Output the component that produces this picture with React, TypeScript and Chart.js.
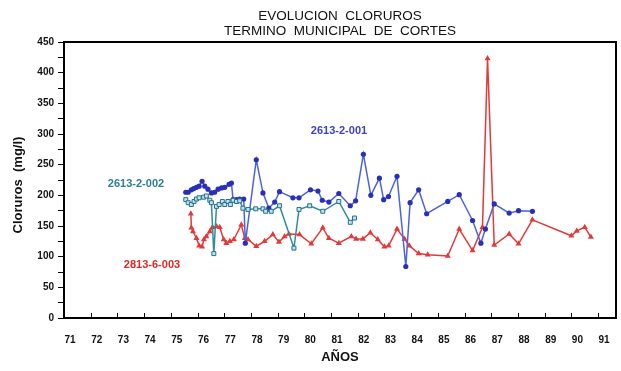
import { useEffect, useRef } from 'react';
import { Chart, registerables } from 'chart.js';

Chart.register(...registerables);

// ---- tick labels ----
const X_TICKS = [71, 72, 73, 74, 75, 76, 77, 78, 79, 80, 81, 82, 83, 84, 85, 86, 87, 88, 89, 90, 91];
const Y_TICKS = [0, 25, 50, 75, 100, 125, 150, 175, 200, 225, 250, 275, 300, 325, 350, 375, 400, 425, 450];

// ---- series 2613-2-001 (blue) ----
const s001Years = [
  75.56, 75.65, 75.77, 75.86, 75.96, 76.06, 76.17, 76.27, 76.39, 76.52, 76.64, 76.77, 76.9, 77.02, 77.18, 77.27,
  77.33, 77.46, 77.58, 77.73, 77.79, 78.2, 78.45, 78.67, 78.89, 79.07, 79.57, 79.8, 80.23, 80.51, 80.67, 80.92,
  81.29, 81.72, 81.92, 82.21, 82.49, 82.81, 82.97, 83.15, 83.47, 83.8, 83.96, 84.28, 84.58, 85.37, 85.8, 86.3,
  86.61, 86.78, 87.11, 87.67, 88.02, 88.54,
];
const s001Values = [
  205, 205, 209, 211, 213, 215, 223, 215, 210, 204, 205, 210, 212, 213, 218, 220,
  193, 193, 194, 194, 122, 258, 204, 179, 189, 206, 196, 196, 209, 207, 192, 189,
  203, 183, 191, 267, 200, 228, 193, 198, 231, 84, 188, 209, 170, 190, 201, 159,
  122, 145, 186, 171, 175, 174,
];

// ---- series 2613-2-002 (teal) ----
const s002Years = [
  75.56, 75.65, 75.77, 75.87, 75.96, 76.06, 76.23, 76.33, 76.46, 76.52, 76.61, 76.71, 76.81, 76.93, 77.02, 77.14,
  77.23, 77.33, 77.46, 77.58, 77.7, 77.89, 78.18, 78.45, 78.55, 78.76, 79.07, 79.61, 79.8, 80.2, 80.69, 81.29,
  81.72, 81.88,
];
const s002Values = [
  193, 188, 185, 190, 194, 196, 197, 199, 192, 188, 105, 182, 185, 190, 185, 190,
  185, 192, 190, 191, 179, 177, 178, 178, 174, 174, 183, 114, 177, 183, 174, 190,
  156, 163,
];

// ---- series 2813-6-003 (red) ----
const s003Years = [
  75.75, 75.77, 75.83, 75.96, 76.06, 76.17, 76.24, 76.33, 76.46, 76.56, 76.71, 76.83, 76.98, 77.08, 77.21, 77.36,
  77.64, 77.77, 77.89, 78.2, 78.51, 78.82, 79.05, 79.26, 79.42, 79.82, 80.26, 80.69, 80.92, 81.29, 81.76, 81.94,
  82.19, 82.47, 82.75, 83.0, 83.16, 83.47, 83.75, 83.93, 84.28, 84.62, 85.37, 85.8, 86.3, 86.67, 86.86, 87.11,
  87.67, 88.02, 88.54, 90.0, 90.2, 90.5, 90.73,
];
const s003Values = [
  170, 147, 141, 130, 118, 116, 128, 133, 141, 148, 149, 148, 128, 122, 125, 128,
  152, 130, 128, 117, 125, 136, 124, 133, 137, 136, 121, 147, 130, 122, 133, 129,
  129, 139, 128, 116, 118, 145, 129, 118, 105, 103, 101, 145, 110, 148, 423, 119,
  137, 121, 160, 134, 142, 148, 132,
];

const SERIES_LABELS = ['2613-2-001', '2613-2-002', '2813-6-003'];
const TITLE_LINES = ['EVOLUCION  CLORUROS', 'TERMINO  MUNICIPAL  DE  CORTES'];
const Y_TITLE = 'Cloruros  (mg/l)';
const X_TITLE = 'AÑOS';

const BLUE = '#4a63e0';
const BLUE_DARK = '#2a2fb8';
const TEAL = '#2f8d98';
const RED = '#e53838';

const toPoints = (xs: number[], ys: number[]) => xs.map((x, i) => ({ x, y: ys[i] }));

const FONT = '"Liberation Sans", Arial, sans-serif';

const decor = {
  id: 'decor',
  afterDraw(chart: any) {
    const { ctx, chartArea, scales } = chart;
    const { left, right, top, bottom } = chartArea;
    ctx.save();
    // frame
    ctx.strokeStyle = '#000';
    ctx.lineWidth = 2;
    ctx.strokeRect(left, top, right - left, bottom - top);
    // inward x ticks
    ctx.lineWidth = 1;
    ctx.beginPath();
    X_TICKS.forEach((v) => {
      if (v === X_TICKS[0]) return;
      const px = Math.round(scales.x.getPixelForValue(v)) + 0.5;
      ctx.moveTo(px, bottom);
      ctx.lineTo(px, bottom - 5);
    });
    ctx.stroke();
    // title
    ctx.fillStyle = '#111';
    ctx.textAlign = 'center';
    ctx.textBaseline = 'middle';
    ctx.font = `13.5px ${FONT}`;
    const cx = (left + right) / 2;
    ctx.fillText(TITLE_LINES[0], cx, 16);
    ctx.fillText(TITLE_LINES[1], cx, 31);
    // x title
    ctx.font = `bold 13px ${FONT}`;
    ctx.fillText(X_TITLE, cx, 357);
    // y title
    ctx.save();
    ctx.translate(18, 185);
    ctx.rotate(-Math.PI / 2);
    ctx.fillText(Y_TITLE, 0, 0);
    ctx.restore();
    // series labels
    ctx.font = `bold 11px ${FONT}`;
    ctx.fillStyle = '#3b3fd0';
    ctx.fillText(SERIES_LABELS[0], 339, 131);
    ctx.fillStyle = '#2c7d95';
    ctx.fillText(SERIES_LABELS[1], 136, 184);
    ctx.fillStyle = '#e02828';
    ctx.fillText(SERIES_LABELS[2], 152, 265);
    ctx.restore();
  },
};

export default function App() {
  const ref = useRef<HTMLCanvasElement>(null);
  useEffect(() => {
    if (!ref.current) return;
    const tickFont = { family: FONT, size: 10, weight: 'bold' as const };
    const chart = new Chart(ref.current, {
      type: 'line',
      data: {
        datasets: [
          {
            label: SERIES_LABELS[1],
            data: toPoints(s002Years, s002Values),
            borderColor: TEAL,
            borderWidth: 1.5,
            pointStyle: 'rect',
            pointRadius: 2.8,
            pointBackgroundColor: '#bfe6ef',
            pointBorderColor: '#2a6f88',
            pointBorderWidth: 1,
            tension: 0,
          },
          {
            label: SERIES_LABELS[0],
            data: toPoints(s001Years, s001Values),
            borderColor: BLUE,
            borderWidth: 1.5,
            pointStyle: 'circle',
            pointRadius: 2.6,
            pointBackgroundColor: BLUE_DARK,
            pointBorderColor: BLUE_DARK,
            pointBorderWidth: 0,
            tension: 0,
          },
          {
            label: SERIES_LABELS[2],
            data: toPoints(s003Years, s003Values),
            borderColor: RED,
            borderWidth: 1.5,
            pointStyle: 'triangle',
            pointRadius: 3.5,
            pointBackgroundColor: RED,
            pointBorderColor: RED,
            pointBorderWidth: 0,
            tension: 0,
          },
        ],
      },
      options: {
        responsive: false,
        animation: false,
        events: [],
        layout: { padding: { top: 42, right: 4, left: 0, bottom: 0 } },
        plugins: { legend: { display: false }, tooltip: { enabled: false }, title: { display: false } },
        scales: {
          x: {
            type: 'linear',
            min: 71,
            max: 91.67,
            afterBuildTicks: (s: any) => {
              s.ticks = X_TICKS.map((v) => ({ value: v }));
            },
            afterFit: (s: any) => {
              s.height = 53;
            },
            grid: { display: false, drawTicks: false },
            border: { display: true, color: '#000', width: 2 },
            ticks: {
              padding: 16,
              labelOffset: 6,
              color: '#111',
              font: tickFont,
              maxRotation: 0,
              autoSkip: false,
              callback: (v: any) => String(v),
            },
          },
          y: {
            type: 'linear',
            min: 0,
            max: 450,
            afterBuildTicks: (s: any) => {
              s.ticks = Y_TICKS.map((v) => ({ value: v }));
            },
            afterFit: (s: any) => {
              s.width = 64;
            },
            grid: { display: true, drawOnChartArea: false, drawTicks: true, tickLength: 6, color: '#000', lineWidth: 1 },
            border: { display: true, color: '#000', width: 2 },
            ticks: {
              padding: 4,
              color: '#111',
              font: tickFont,
              autoSkip: false,
              callback: (v: any) => (Number(v) % 50 === 0 ? String(v) : ''),
            },
          },
        },
      },
      plugins: [decor],
    } as any);
    return () => chart.destroy();
  }, []);
  return (
    <div style={{ position: 'fixed', left: 0, top: 0, width: 621, height: 371, background: '#fff' }}>
      <canvas ref={ref} width={621} height={371} style={{ display: 'block', width: 621, height: 371 }} />
    </div>
  );
}
